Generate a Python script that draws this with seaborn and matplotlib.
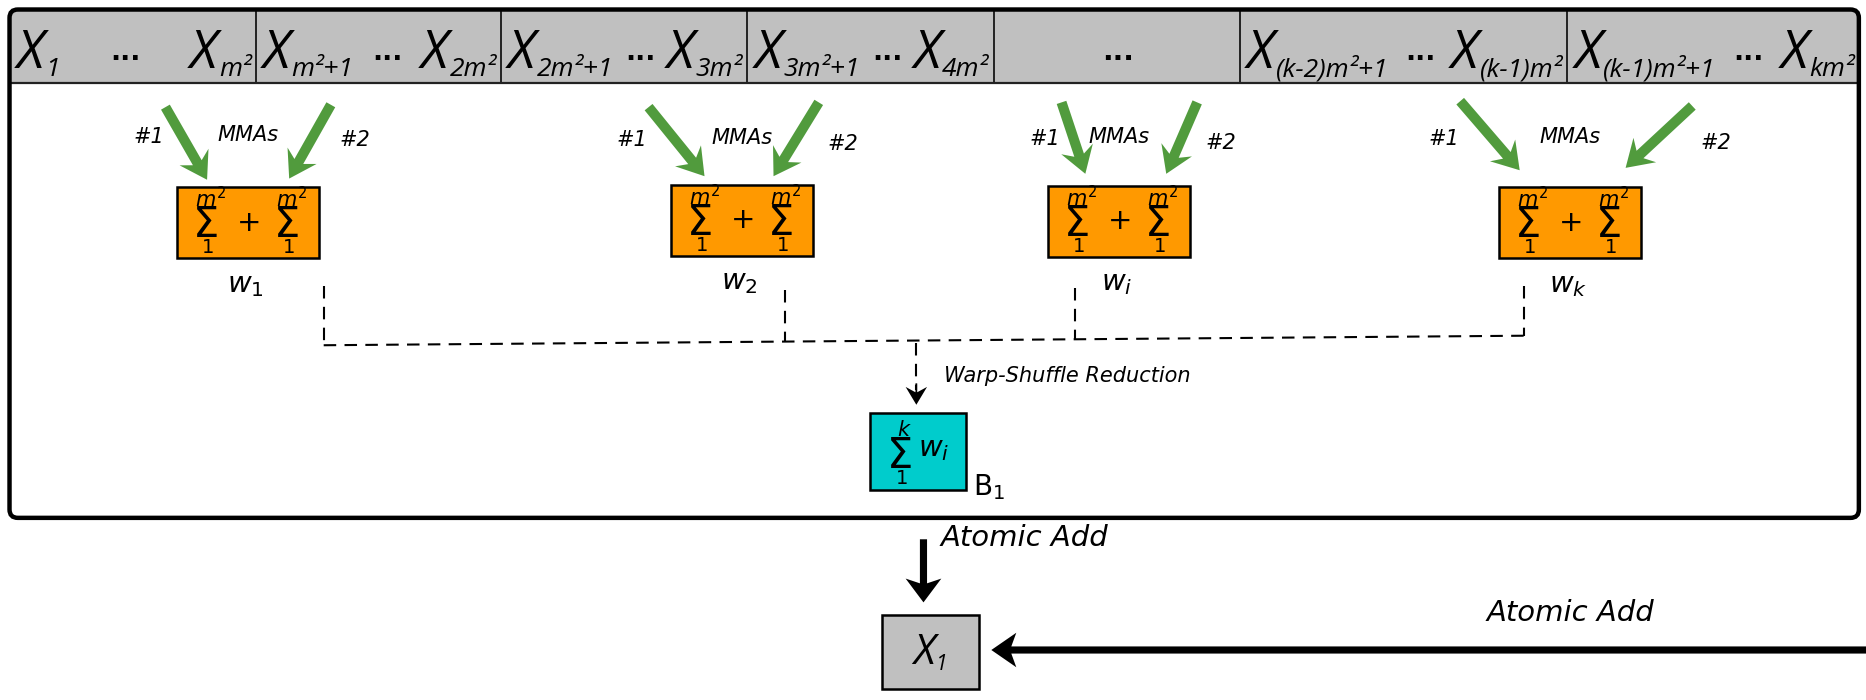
import matplotlib
matplotlib.use("Agg")
import matplotlib.pyplot as plt
from matplotlib.patches import FancyBboxPatch, Rectangle, Polygon
import numpy as np
import seaborn as sns

# ---- content -------------------------------------------------------------
# (first subscript, last subscript) of the X range in each header cell
header_terms = [
    ("1", "m²"),
    ("m²+1", "2m²"),
    ("2m²+1", "3m²"),
    ("3m²+1", "4m²"),
    None,
    ("(k-2)m²+1", "(k-1)m²"),
    ("(k-1)m²+1", "km²"),
]
warp_names = [r"$w_1$", r"$w_2$", r"$w_i$", r"$w_k$"]
mma_labels = ["#1", "MMAs", "#2"]
sum_upper, sum_lower = r"$m^2$", r"$1$"
block_upper, block_lower, block_term = r"$k$", r"$1$", r"$w_i$"
block_name = r"B$_1$"
reduce_label = "Warp-Shuffle Reduction"
atomic_label = "Atomic Add"
result_term = "1"

# ---- layout (canvas units, 1568 x 588) ----------------------------------
W, H = 1568, 588
FIG_W = 1866
PX = FIG_W / W          # pixels per canvas unit
header_edges = [8, 215, 421, 628, 835, 1042, 1317, 1562]
box_left = [149, 564, 881, 1260]
box_top = [157, 155, 156, 157]
box_w, box_h = 119, 60
arrow_l = [((139, 90), (174, 151)), ((545, 90), (592, 148)),
           ((892, 86), (912, 146)), ((1227, 85), (1277, 143))]
arrow_r = [((278, 88), (243, 150)), ((688, 86), (650, 148)),
           ((1006, 86), (980, 146)), ((1422, 89), (1366, 141))]
lab_y = [115, 118, 117, 117]
dash_x = [272, 660, 903, 1281]
dash_top = [240, 244, 242, 240]
dash_y = [290, 287, 285, 282]

GREEN = "#519b3d"
ORANGE = "#ff9900"
CYAN = "#00cccc"
GREY = "#c0c0c0"
HEAD_FONT = ["Open Sans", "DejaVu Sans"]

sns.set_theme(style="white")
plt.rcParams["font.family"] = ["DejaVu Sans"]
plt.rcParams["text.color"] = "black"
plt.rcParams["mathtext.fontset"] = "dejavusans"
plt.rcParams["mathtext.default"] = "it"


def arrow(ax, p0, p1, shaft, head_w, head_l, color, notch=0.25, zorder=5):
    """Filled arrow with a slightly swept-back head."""
    p0, p1 = np.array(p0, float), np.array(p1, float)
    d = p1 - p0
    u = d / np.hypot(*d)
    n = np.array([-u[1], u[0]])
    base = p1 - u * head_l
    notch_pt = base + u * head_l * notch
    pts = [p0 + n * shaft / 2, notch_pt + n * shaft / 2,
           base + n * head_w / 2, p1,
           base - n * head_w / 2, notch_pt - n * shaft / 2,
           p0 - n * shaft / 2]
    ax.add_patch(Polygon(pts, closed=True, fc=color, ec="none", zorder=zorder))


def big_sum(ax, cx, cy, upper, lower):
    """Summation sign with its limits set above and below."""
    ax.text(cx, cy + 12, "Σ", fontsize=30, ha="center", va="baseline",
            zorder=5)
    ax.text(cx + 4, cy - 20, upper, fontsize=15, ha="center", va="center",
            zorder=5)
    ax.text(cx + 1, cy + 21, lower, fontsize=14, ha="center", va="center",
            zorder=5)


def x_term(ax, renderer, sub, y, big, small, drop):
    """Italic X with its subscript; returns the texts and their widths."""
    parts = [ax.text(0, y, "X", fontsize=big, family=HEAD_FONT,
                     style="italic", ha="left", va="baseline", zorder=4),
             ax.text(0, y + drop, sub, fontsize=small, family=HEAD_FONT,
                     style="italic", ha="left", va="baseline", zorder=4)]
    widths = [p.get_window_extent(renderer).width / PX for p in parts]
    return parts, widths


def place(parts, widths, x0, gap=1.0):
    x = x0
    for p, w in zip(parts, widths):
        p.set_x(x)
        x += w + gap
    return x


fig = plt.figure(figsize=(18.66, 7), dpi=100)
ax = fig.add_axes([0, 0, 1, 1])
ax.set_xlim(0, W)
ax.set_ylim(H, 0)
ax.axis("off")
renderer = fig.canvas.get_renderer()

# outer block frame with header strip
ax.add_patch(Rectangle((9, 9), 1552, 61, fc=GREY, ec="none", zorder=2))
ax.plot([8, 1562], [70, 70], color="#222222", lw=1.6, zorder=3)
for x in header_edges[1:-1]:
    ax.plot([x, x], [8, 70], color="#222222", lw=1.4, zorder=3)
ax.add_patch(FancyBboxPatch((8, 8), 1554, 427,
                            boxstyle="round,pad=0,rounding_size=7",
                            fc="none", ec="black", lw=3.2, zorder=6))

for i, terms in enumerate(header_terms):
    left, right = header_edges[i] + 6, header_edges[i + 1] - 4
    if terms is None:
        ax.text((left + right) / 2, 50, "...", ha="center", va="baseline",
                fontsize=20, fontweight="bold", zorder=4)
        continue
    pa, wa = x_term(ax, renderer, terms[0], 57, 38, 19, 7)
    pb, wb = x_term(ax, renderer, terms[1], 57, 38, 19, 7)
    end_a = place(pa, wa, left)
    start_b = right - sum(wb) - 1
    place(pb, wb, start_b)
    ax.text((end_a + start_b) / 2, 50, "...", ha="center", va="baseline",
            fontsize=19, fontweight="bold", zorder=4)

# warps
for i in range(4):
    x0, y0 = box_left[i], box_top[i]
    xc, yc = x0 + box_w / 2, y0 + box_h / 2
    ax.add_patch(Rectangle((x0, y0), box_w, box_h, fc=ORANGE, ec="black",
                           lw=1.8, zorder=4))
    big_sum(ax, x0 + 24, yc, sum_upper, sum_lower)
    big_sum(ax, x0 + 92, yc, sum_upper, sum_lower)
    ax.text(xc + 1, yc, "+", fontsize=21, ha="center", va="center", zorder=5)
    ax.text(xc - 2, y0 + box_h + 22, warp_names[i], ha="center", va="center",
            fontsize=21, zorder=5)
    arrow(ax, *arrow_l[i], shaft=8.5, head_w=28, head_l=22, color=GREEN)
    arrow(ax, *arrow_r[i], shaft=8.5, head_w=28, head_l=22, color=GREEN)
    (lx0, _), _ = arrow_l[i]
    (rx0, _), _ = arrow_r[i]
    ax.text(lx0 - 14, lab_y[i], mma_labels[0], ha="center", va="center",
            fontsize=15, style="italic", zorder=5)
    ax.text(xc, lab_y[i] - 2, mma_labels[1], ha="center", va="center",
            fontsize=15, style="italic", zorder=5)
    ax.text(rx0 + 20, lab_y[i] + 3, mma_labels[2], ha="center", va="center",
            fontsize=15, style="italic", zorder=5)
    ax.plot([dash_x[i], dash_x[i]], [dash_top[i], dash_y[i]], color="black",
            lw=1.5, ls=(0, (6, 4)), zorder=3)

ax.plot([dash_x[0], dash_x[-1]], [dash_y[0], dash_y[-1]], color="black",
        lw=1.5, ls=(0, (6, 4)), zorder=3)
ax.plot([770, 770], [288, 328], color="black", lw=1.5, ls=(0, (6, 4)),
        zorder=3)
arrow(ax, (770, 322), (770, 340), shaft=1.5, head_w=18, head_l=15,
      color="black", notch=0.3)
ax.text(793, 316, reduce_label, ha="left", va="center", fontsize=15,
        style="italic")

# block reduction
ax.add_patch(Rectangle((731, 347), 81, 65, fc=CYAN, ec="black", lw=1.8,
                       zorder=4))
big_sum(ax, 756, 381, block_upper, block_lower)
ax.text(785, 377, block_term, fontsize=21, ha="center", va="center",
        zorder=5)
ax.text(818, 409, block_name, ha="left", va="center", fontsize=20, zorder=5)

# global atomic add
arrow(ax, (776, 453), (776, 506), shaft=6, head_w=30, head_l=20,
      color="black", notch=0.2)
ax.text(790, 452, atomic_label, ha="left", va="center", fontsize=21,
        style="italic")
ax.add_patch(Rectangle((741, 517), 82, 62, fc=GREY, ec="black", lw=1.8,
                       zorder=4))
pr, wr = x_term(ax, renderer, result_term, 558, 30, 15, 5)
place(pr, wr, 781 - sum(wr) / 2)
arrow(ax, (W + 5, 546), (833, 546), shaft=6, head_w=29, head_l=21,
      color="black", notch=0.2)
ax.text(1320, 515, atomic_label, ha="center", va="center", fontsize=21,
        style="italic")

fig.savefig("out.png", dpi=100)
